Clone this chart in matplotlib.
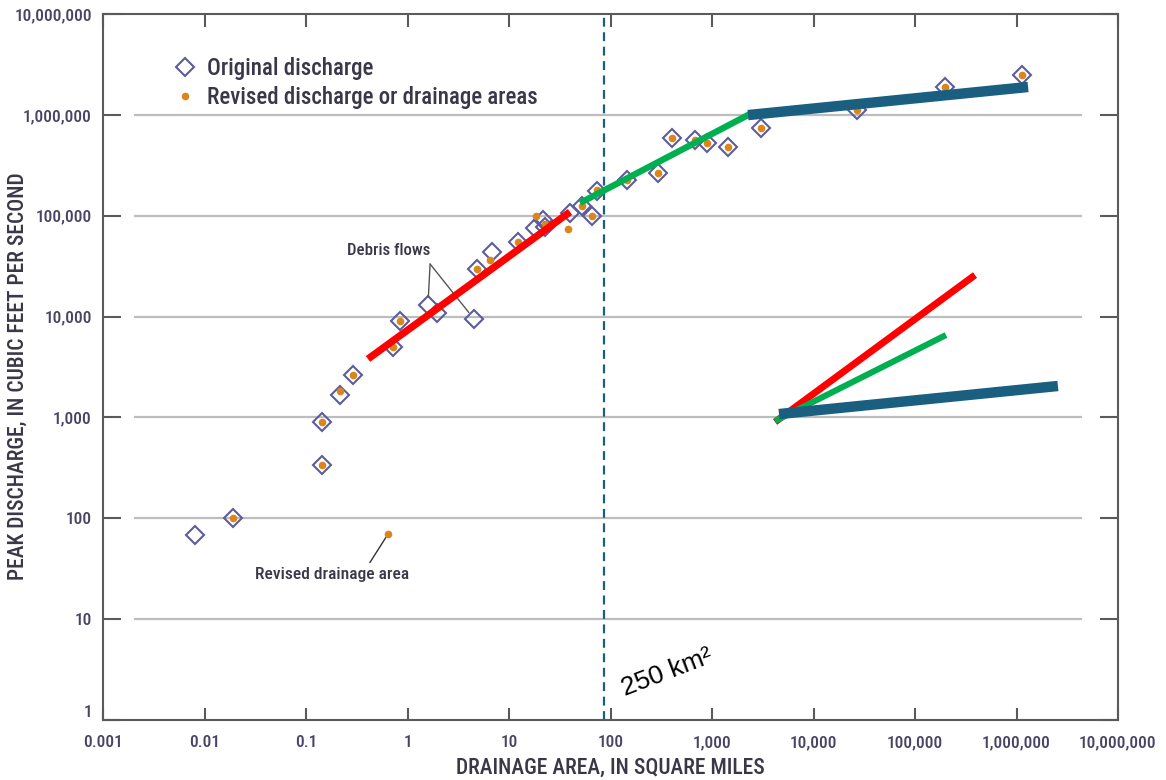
import matplotlib
matplotlib.use("Agg")
import matplotlib.pyplot as plt
from matplotlib.lines import Line2D
from matplotlib.ticker import FixedLocator, FixedFormatter, NullLocator

plt.rcParams['font.family'] = ['Roboto Condensed', 'DejaVu Sans']
plt.rcParams['font.weight'] = 'medium'
plt.rcParams['axes.labelweight'] = 'medium'

# ---------------- data ----------------
x_ticks = [0.001, 0.01, 0.1, 1, 10, 100, 1e3, 1e4, 1e5, 1e6, 1e7]
x_tick_labels = ["0.001", "0.01", "0.1", "1", "10", "100", "1,000", "10,000",
                 "100,000", "1,000,000", "10,000,000"]
y_ticks = [1, 10, 100, 1e3, 1e4, 1e5, 1e6, 1e7]
y_tick_labels = ["1", "10", "100", "1,000", "10,000", "100,000", "1,000,000", "10,000,000"]
grid_levels = [10, 100, 1e3, 1e4, 1e5, 1e6]

orig_area = [0.0081, 0.0191, 0.144, 0.144, 0.216, 0.29, 0.72, 0.84, 1.59, 1.95,
             4.52, 4.84, 6.8, 12.3, 18.0, 21.6, 22.6, 39.9, 52.3, 65.7, 73.7,
             145, 294, 403, 681, 893, 1440, 3040, 26900, 198000, 1130000]
orig_q = [68, 100, 337, 900, 1650, 2630, 5030, 9040, 13000, 10800,
          9460, 29600, 43600, 54800, 75500, 90600, 77300, 106000, 125000, 99300, 176000,
          226000, 265000, 589000, 563000, 526000, 480000, 741000, 1117000, 1888000, 2480000]

rev_area = [0.0191, 0.144, 0.144, 0.216, 0.29, 0.72, 0.84, 4.84, 6.5, 12.3,
            18.5, 22.6, 38.1, 52.3, 65.7, 73.7, 145, 294, 403, 681, 893, 1440,
            3040, 26900, 198000, 1130000, 0.643]
rev_q = [100, 337, 900, 1830, 2630, 5030, 9040, 29600, 36400, 54800,
         99300, 82000, 73800, 125000, 99300, 180000, 226000, 265000, 589000, 563000, 526000, 480000,
         741000, 1117000, 1888000, 2480000, 69.8]

debris_area = [1.59, 4.52]
debris_q = [13000, 9460]
revised_area_pt = (0.643, 69.8)

red_x = [0.408, 39.9]
red_y = [3800, 109000]
green_x = [50.1, 2370]
green_y = [133700, 1020000]
blue_x = [2265, 1.30e6]
blue_y = [995000, 1890000]

inset_red_x = [4180, 390000]
inset_red_y = [901, 25800]
inset_green_x = [4180, 202000]
inset_green_y = [922, 6560]
inset_blue_x = [4570, 2.56e6]
inset_blue_y = [1080, 2050]

threshold_area = 87  # ~250 km2

# ---------------- colors ----------------
RED = "#ff0000"
GREEN = "#00b050"
BLUE = "#1a5f80"
DIAM = "#5c5c9c"
DOT = "#d9861c"
TXT = "#3a3748"
TICKTXT = "#4a4464"
SPINE = "#5a5a5a"
GRID = "#bdbdbd"

fig = plt.figure(figsize=(11.66, 7.80), dpi=100)
ax = fig.add_axes([103 / 1166, 1 - 720 / 780, (1118 - 103) / 1166, (720 - 14) / 780])
ax.set_xscale("log")
ax.set_yscale("log")
ax.set_xlim(1e-3, 1e7)
ax.set_ylim(1, 1e7)

# gridlines (short of the frame, like the original)
ax.hlines(grid_levels, 0.002, 4.4e6, colors=GRID, linewidth=1.6, zorder=1)

# threshold line
ax.axvline(threshold_area, color=BLUE, linestyle=(0, (4, 2.5)), linewidth=1.6, zorder=2)

# points
ax.plot(orig_area, orig_q, linestyle="none", marker="D", markersize=9,
        markerfacecolor="none", markeredgecolor=DIAM, markeredgewidth=1.5, zorder=3)
ax.plot(rev_area, rev_q, linestyle="none", marker="o", markersize=5.5,
        markerfacecolor=DOT, markeredgecolor=DOT, markeredgewidth=0, zorder=4)

# fitted lines
ax.plot(red_x, red_y, color=RED, linewidth=5.2, solid_capstyle="butt", zorder=5)
ax.plot(green_x, green_y, color=GREEN, linewidth=4.6, solid_capstyle="butt", zorder=5)
ax.plot(blue_x, blue_y, color=BLUE, linewidth=7.5, solid_capstyle="butt", zorder=5)

ax.plot(inset_red_x, inset_red_y, color=RED, linewidth=5.0, solid_capstyle="butt", zorder=5)
ax.plot(inset_green_x, inset_green_y, color=GREEN, linewidth=4.4, solid_capstyle="butt", zorder=6)
ax.plot(inset_blue_x, inset_blue_y, color=BLUE, linewidth=7.5, solid_capstyle="butt", zorder=7)

# annotations
apex = (1.67, 33200)
for xa, ya in zip(debris_area, debris_q):
    ax.annotate("", xy=(xa, ya), xytext=apex,
                arrowprops=dict(arrowstyle="-", color="#555555", lw=1.0,
                                shrinkA=0, shrinkB=6))
ax.text(0.658, 44700, "Debris flows", fontsize=12.2, color=TXT,
        ha="center", va="center", zorder=8)

ax.annotate("Revised drainage area", xy=revised_area_pt, xytext=(0.18, 28),
            fontsize=12.6, color=TXT, ha="center", va="center",
            arrowprops=dict(arrowstyle="-", color="#333333", lw=1.0,
                            shrinkA=1, shrinkB=3, relpos=(0.73, 1.0)))

ax.text(139, 1.72, "250 km²", fontsize=19, color="black", rotation=21,
        rotation_mode="anchor", ha="left", va="baseline", fontweight="normal",
        family=["Liberation Sans", "DejaVu Sans"])

# legend
handles = [
    Line2D([], [], linestyle="none", marker="D", markersize=9, markerfacecolor="none",
           markeredgecolor=DIAM, markeredgewidth=1.5),
    Line2D([], [], linestyle="none", marker="o", markersize=5.5, markerfacecolor=DOT,
           markeredgewidth=0),
]
leg = ax.legend(handles, ["Original discharge", "Revised discharge or drainage areas"],
                loc="upper left", bbox_to_anchor=(0.062, 0.952), frameon=False,
                fontsize=16.5, handlelength=0.85, handletextpad=0.55, labelspacing=0.28,
                borderaxespad=0)
for t in leg.get_texts():
    t.set_color(TXT)

# axes styling
ax.xaxis.set_major_locator(FixedLocator(x_ticks))
ax.xaxis.set_major_formatter(FixedFormatter(x_tick_labels))
ax.yaxis.set_major_locator(FixedLocator(y_ticks))
ax.yaxis.set_major_formatter(FixedFormatter(y_tick_labels))
ax.xaxis.set_minor_locator(NullLocator())
ax.yaxis.set_minor_locator(NullLocator())

ax.tick_params(axis="x", which="major", direction="in", length=9, width=1.5,
               color=SPINE, top=True, bottom=True, labelsize=12.5,
               labelcolor=TICKTXT, pad=11)
ax.tick_params(axis="y", which="major", direction="in", length=13, width=1.5,
               color=SPINE, left=True, right=True, labelsize=12.5,
               labelcolor=TICKTXT, pad=8)
for sp in ax.spines.values():
    sp.set_color(SPINE)
    sp.set_linewidth(1.5)

for lbl in ax.get_yticklabels():
    if lbl.get_text() == "1":
        lbl.set_verticalalignment("bottom")

ax.set_xlabel("DRAINAGE AREA, IN SQUARE MILES", fontsize=15.5, color=TXT, fontweight="medium")
ax.set_ylabel("PEAK DISCHARGE, IN CUBIC FEET PER SECOND", fontsize=15.5, color=TXT,
              fontweight="medium")
ax.xaxis.label.set_verticalalignment("center")
ax.yaxis.label.set_verticalalignment("center")
ax.xaxis.set_label_coords(0.5, -0.068)
ax.yaxis.set_label_coords(-0.0835, 0.487)

fig.savefig("out.png", dpi=100)
